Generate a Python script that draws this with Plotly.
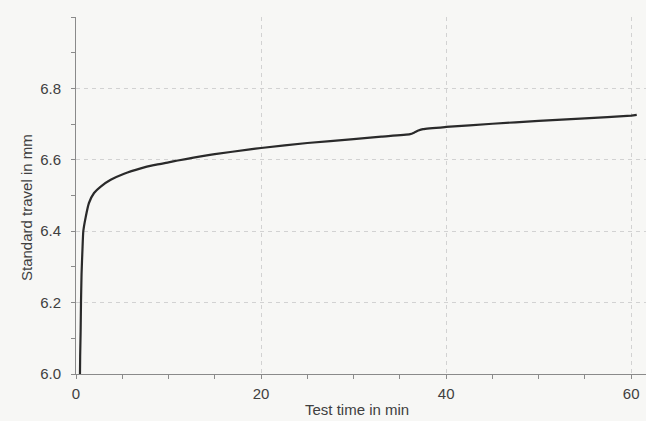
import plotly.graph_objects as go

# Data
test_time_min = [0.43, 0.45, 0.50, 0.54, 0.60, 0.70, 0.79, 1.05, 1.4, 1.95, 2.67, 3.75,
                 5.2, 7.0, 8.4, 10.0, 11.0, 12.7, 15.0, 18.8, 20.0, 25.0, 30.0,
                 33.0, 36.1, 36.6, 37.0, 37.5, 40.0, 45.0, 50.0, 55.0, 60.0, 60.6]
standard_travel_mm = [6.000, 6.050, 6.120, 6.200, 6.280, 6.350, 6.400, 6.440, 6.479, 6.507,
                      6.525, 6.544, 6.561, 6.576, 6.585, 6.593, 6.598, 6.606, 6.616, 6.629,
                      6.633, 6.647, 6.658, 6.665, 6.672, 6.677, 6.682, 6.686, 6.692, 6.701,
                      6.709, 6.716, 6.724, 6.726]

x_ticks = [0, 20, 40, 60]
y_ticks = [6.0, 6.2, 6.4, 6.6, 6.8]
y_tick_labels = ["6.0", "6.2", "6.4", "6.6", "6.8"]
x_minor = [5, 10, 15, 25, 30, 35, 45, 50, 55]
y_minor = [6.1, 6.3, 6.5, 6.7, 6.9, 7.0]

fig = go.Figure()
fig.add_trace(go.Scatter(
    x=test_time_min, y=standard_travel_mm, mode="lines",
    line=dict(color="#2a2a2a", width=2.2, shape="spline", smoothing=0.5),
    showlegend=False,
))

bg = "#f7f7f5"
axis_col = "#8a8a8a"
grid_col = "#d2d2d2"
fig.update_layout(
    width=646, height=421,
    margin=dict(l=76, r=0, t=17, b=47),
    paper_bgcolor=bg, plot_bgcolor=bg,
    font=dict(family="Liberation Sans, Arial, sans-serif", size=15, color="#404040"),
)
fig.update_xaxes(
    range=[0, 61.6], tickmode="array", tickvals=x_ticks, automargin=False,
    showgrid=True, gridcolor=grid_col, griddash="4px,4px", gridwidth=1,
    zeroline=False, showline=True, linecolor=axis_col, linewidth=1,
    ticks="outside", ticklen=4, tickcolor=axis_col, ticklabelstandoff=2,
    minor=dict(tickvals=x_minor, ticks="outside", ticklen=4, tickcolor=axis_col, showgrid=False),
)
fig.update_yaxes(
    range=[6.0, 7.0], tickmode="array", tickvals=y_ticks, ticktext=y_tick_labels, automargin=False,
    showgrid=True, gridcolor=grid_col, griddash="4px,4px", gridwidth=1,
    zeroline=False, showline=True, linecolor=axis_col, linewidth=1,
    ticks="outside", ticklen=4, tickcolor=axis_col, ticklabelstandoff=7,
    minor=dict(tickvals=y_minor, ticks="outside", ticklen=4, tickcolor=axis_col, showgrid=False),
)
fig.add_annotation(text="Test time in min", xref="paper", yref="paper",
                   x=(357 - 76) / 570, y=-(409 - 374) / 357, showarrow=False,
                   xanchor="center", yanchor="middle", font=dict(size=15))
fig.add_annotation(text="Standard travel in mm", xref="paper", yref="paper",
                   x=-(76 - 26) / 570, y=(374 - 208) / 357, showarrow=False, textangle=-90,
                   xanchor="center", yanchor="middle", font=dict(size=15))

fig.write_html("out.html", config={"displayModeBar": False},
               post_script="document.body.style.margin='0';document.body.style.overflow='hidden';")
